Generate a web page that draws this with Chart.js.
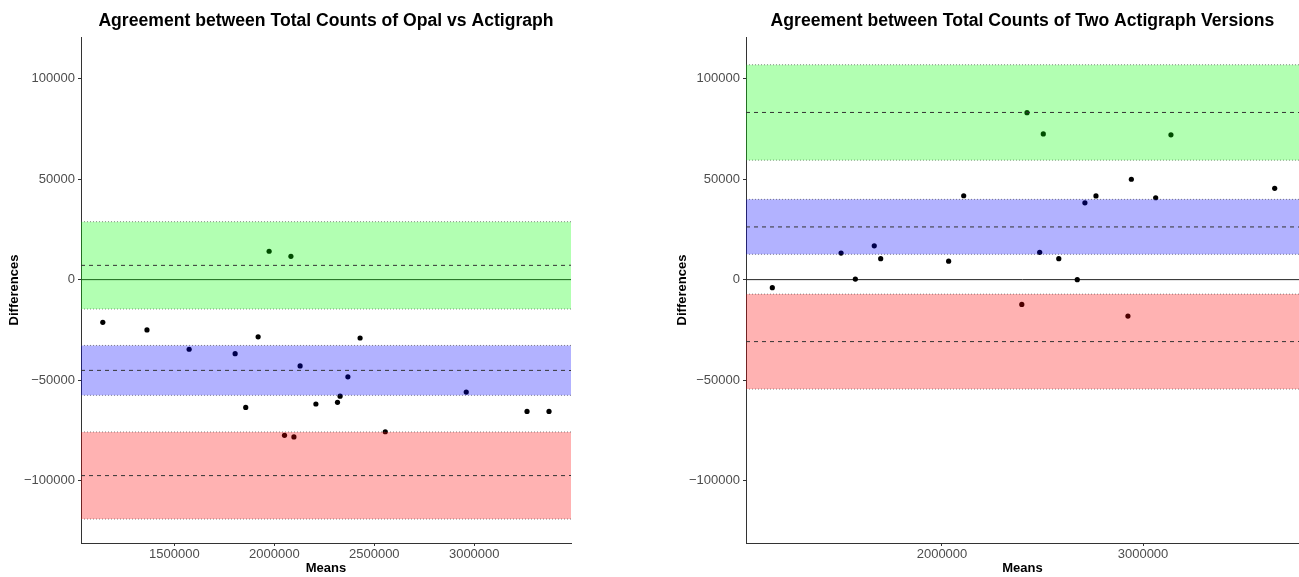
<!DOCTYPE html>
<html>
<head>
<meta charset="utf-8">
<script src="https://cdn.jsdelivr.net/npm/chart.js@4/dist/chart.umd.min.js"></script>
<style>
  body { margin: 0; background: #fff; }
  #wrap { position: relative; width: 1299px; height: 577px; overflow: hidden; }
  #opalChart { position: absolute; left: 0; top: 0; }
  #versionChart { position: absolute; left: 665px; top: 0; }
</style>
</head>
<body>
<div id="wrap">
  <canvas id="opalChart" width="575" height="577"></canvas>
  <canvas id="versionChart" width="634" height="577"></canvas>
</div>
<script>
// Opal vs Actigraph
const opalMeans = [1142000, 1363000, 1574000, 1804000, 1857000, 1919000, 1974000, 2051000, 2083000, 2098000,
                   2129000, 2208000, 2316000, 2329000, 2368000, 2429000, 2555000, 2960000, 3264000, 3374000];
const opalDiffs = [-21200, -25000, -34600, -36800, -63500, -28400, 14100, -77400, 11600, -78200,
                   -42900, -61800, -61000, -57900, -48300, -29000, -75600, -55900, -65500, -65500];
const opalBandLow  = [-14600, -57500, -119000];
const opalBandHigh = [28800, -32700, -75700];
const opalLines    = [7100, -45100, -97400];
const opalXTicks   = [1500000, 2000000, 2500000, 3000000];
const opalXRange   = [1033000, 3484000];

// Two Actigraph versions
const versionMeans = [1156000, 1498000, 1569000, 1663000, 1695000, 2033000, 2108000, 2397000, 2423000, 2486000,
                      2504000, 2581000, 2673000, 2711000, 2766000, 2925000, 2942000, 3063000, 3139000, 3655000];
const versionDiffs = [-4000, 13200, 300, 16800, 10400, 9200, 41700, -12300, 83000, 13600,
                      72400, 10400, 0, 38200, 41600, -18100, 49900, 40700, 72000, 45400];
const versionBandLow  = [59400, 12600, -54400];
const versionBandHigh = [106800, 39900, -7200];
const versionLines    = [83100, 26200, -30800];
const versionXTicks   = [2000000, 3000000];
const versionXRange   = [1025000, 3776000];

const yTicks = [-100000, -50000, 0, 50000, 100000];
const yRange = [-130900, 120600];

const bandColors = ['rgba(0,255,0,0.3)', 'rgba(0,0,255,0.3)', 'rgba(255,0,0,0.3)'];
const fontFamily = "'Liberation Sans', Arial, sans-serif";

function hline(y, xr, extra) {
    return Object.assign({
        data: [{ x: xr[0], y: y }, { x: xr[1], y: y }],
        pointRadius: 0,
        borderWidth: 1,
        fill: false
    }, extra);
}

function buildDatasets(means, diffs, low, high, mid, xr) {
    const sets = [];
    sets.push(hline(0, xr, { borderColor: '#222', order: 6 }));
    sets.push({
        type: 'scatter',
        data: means.map((m, i) => ({ x: m, y: diffs[i] })),
        backgroundColor: '#000',
        borderColor: '#000',
        pointRadius: 2.6,
        borderWidth: 0,
        order: 5
    });
    for (let i = 0; i < 3; i++) {
        sets.push(hline(high[i], xr, {
            borderColor: 'rgba(60,60,60,0.6)', borderDash: [1, 2],
            fill: '+1', backgroundColor: bandColors[i], order: 2
        }));
        sets.push(hline(low[i], xr, {
            borderColor: 'rgba(60,60,60,0.6)', borderDash: [1, 2], order: 2
        }));
    }
    for (let i = 0; i < 3; i++) {
        sets.push(hline(mid[i], xr, { borderColor: '#333', borderDash: [4, 4], order: 1 }));
    }
    return sets;
}

const panelTitle = {
    id: 'panelTitle',
    afterDraw(chart, args, opts) {
        const ctx = chart.ctx;
        const a = chart.chartArea;
        ctx.save();
        ctx.font = 'bold 17.6px ' + fontFamily;
        ctx.fillStyle = '#000';
        ctx.textAlign = 'center';
        ctx.textBaseline = 'middle';
        ctx.fillText(opts.text, (a.left + a.right) / 2, 21);
        ctx.restore();
    }
};

function minusLabel(v) {
    return v < 0 ? '\u2212' + Math.abs(v) : String(v);
}

function renderPanel(id, title, datasets, xr, xTicks, rightPad, yTitlePad) {
    const ctx = document.getElementById(id);
    return new Chart(ctx, {
        type: 'line',
        data: { datasets: datasets },
        plugins: [panelTitle],
        options: {
            responsive: false,
            animation: false,
            events: [],
            layout: { autoPadding: false, padding: { top: 37, right: rightPad, bottom: 0, left: 0 } },
            plugins: {
                legend: { display: false },
                tooltip: { enabled: false },
                panelTitle: { text: title }
            },
            scales: {
                x: {
                    type: 'linear',
                    min: xr[0],
                    max: xr[1],
                    afterBuildTicks: s => { s.ticks = xTicks.map(v => ({ value: v })); },
                    afterFit: s => { s.height = 34; },
                    grid: { drawOnChartArea: false, tickLength: 3, color: '#333' },
                    border: { color: '#333', width: 1 },
                    ticks: {
                        color: '#4d4d4d', padding: 1, autoSkip: false, maxRotation: 0,
                        font: { family: fontFamily, size: 13 },
                        callback: minusLabel
                    },
                    title: {
                        display: true, text: 'Means', color: '#000',
                        padding: { top: 0, bottom: 1 },
                        font: { family: fontFamily, size: 13, weight: 'bold' }
                    }
                },
                y: {
                    type: 'linear',
                    min: yRange[0],
                    max: yRange[1],
                    afterBuildTicks: s => { s.ticks = yTicks.map(v => ({ value: v })); },
                    afterFit: s => { s.width = 81; },
                    grid: { drawOnChartArea: false, tickLength: 3, color: '#333' },
                    border: { color: '#333', width: 1 },
                    ticks: {
                        color: '#4d4d4d', padding: 3,
                        font: { family: fontFamily, size: 13 },
                        callback: minusLabel
                    },
                    title: {
                        display: true, text: 'Differences', color: '#000',
                        padding: { top: yTitlePad, bottom: 0 },
                        font: { family: fontFamily, size: 13, weight: 'bold' }
                    }
                }
            }
        }
    });
}

renderPanel('opalChart', 'Agreement between Total Counts of Opal vs Actigraph',
    buildDatasets(opalMeans, opalDiffs, opalBandLow, opalBandHigh, opalLines, opalXRange),
    opalXRange, opalXTicks, 4, 7);

renderPanel('versionChart', 'Agreement between Total Counts of Two Actigraph Versions',
    buildDatasets(versionMeans, versionDiffs, versionBandLow, versionBandHigh, versionLines, versionXRange),
    versionXRange, versionXTicks, 0, 10);
</script>
</body>
</html>
